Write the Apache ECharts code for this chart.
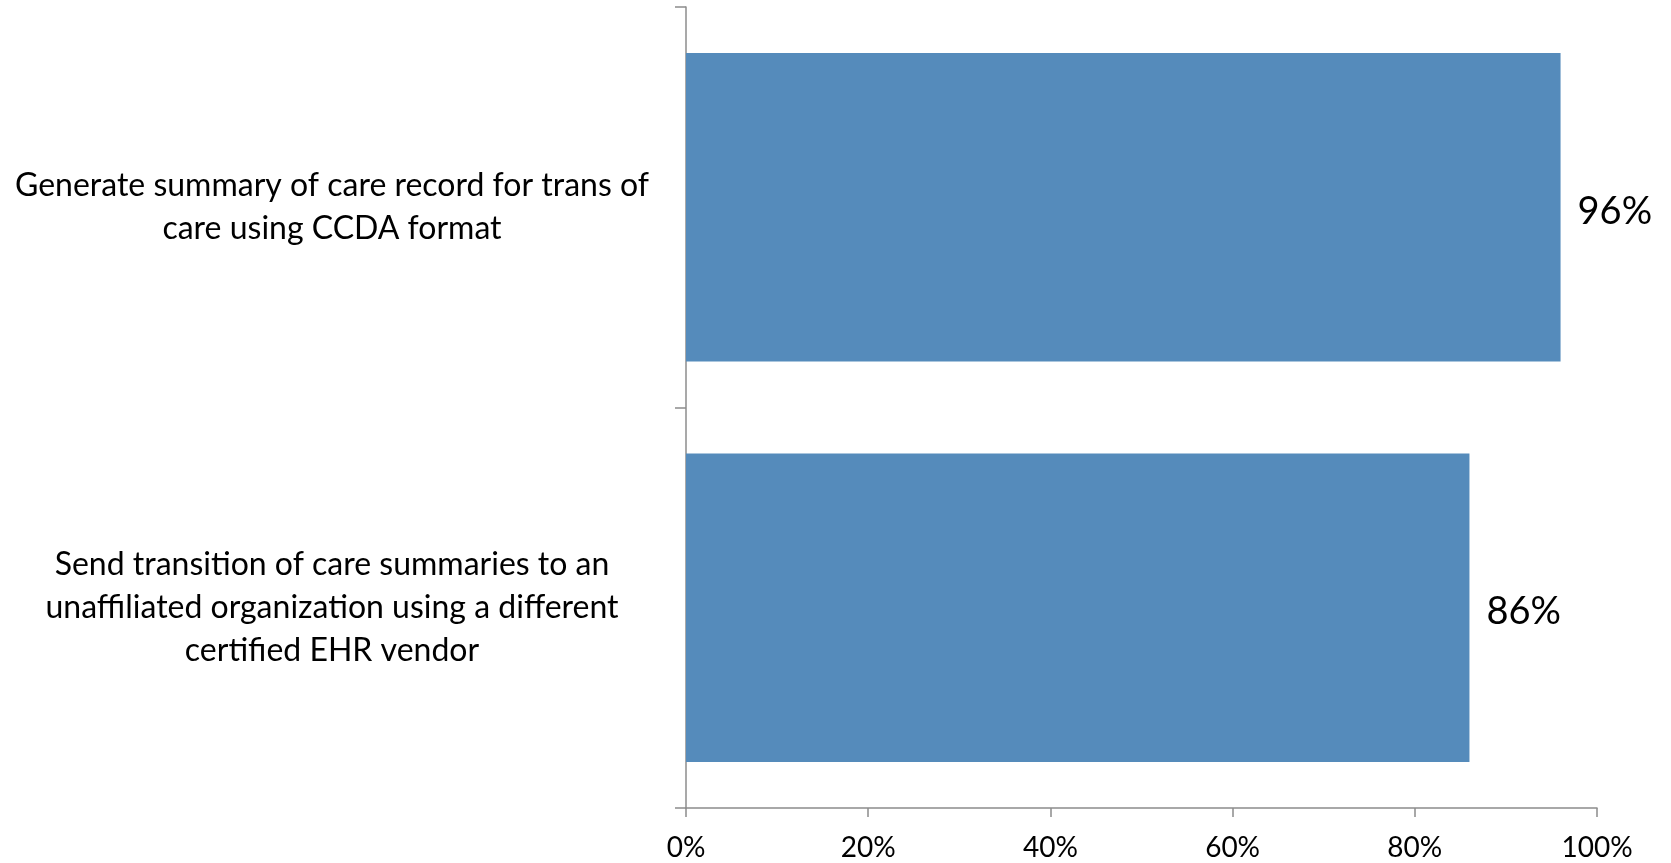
<!DOCTYPE html>
<html>
<head>
<meta charset="utf-8">
<title>Transition of care capabilities</title>
<script src="https://cdn.jsdelivr.net/npm/echarts@6/dist/echarts.min.js"></script>
<style>
  html, body { margin: 0; padding: 0; background: #ffffff; }
  #chart { width: 1671px; height: 863px; }
</style>
</head>
<body>
<div id="chart"></div>
<script>
// Capability labels, top to bottom
const categories = [
  'Generate summary of care record for trans of\ncare using CCDA format',
  'Send transition of care summaries to an\nunaffiliated organization using a different\ncertified EHR vendor'
];
// Share of respondents (percent)
const values = [96, 86];
// Value axis ticks
const axisMin = 0;
const axisMax = 100;
const axisStep = 20;

const FONT = 'Lato, "Open Sans", sans-serif';
const AXIS_GRAY = '#8c8c8c';

const chart = echarts.init(document.getElementById('chart'), null, { renderer: 'canvas' });

chart.setOption({
  animation: false,
  backgroundColor: '#ffffff',
  grid: { left: 686, right: 74, top: 7, bottom: 55, containLabel: false },
  xAxis: {
    type: 'value',
    min: axisMin,
    max: axisMax,
    interval: axisStep,
    axisLine: { show: true, lineStyle: { color: AXIS_GRAY, width: 1.5 } },
    axisTick: { show: true, length: 9, lineStyle: { color: AXIS_GRAY, width: 1.5 } },
    splitLine: { show: false },
    axisLabel: {
      formatter: '{value}%',
      color: '#000000',
      fontFamily: FONT,
      fontSize: 28,
      margin: 26
    }
  },
  yAxis: {
    type: 'category',
    data: categories,
    inverse: true,
    axisLine: { show: true, lineStyle: { color: AXIS_GRAY, width: 1.5 } },
    axisTick: { show: true, length: 11, lineStyle: { color: AXIS_GRAY, width: 1.5 } },
    splitLine: { show: false },
    axisLabel: {
      color: '#000000',
      fontFamily: FONT,
      fontSize: 32,
      lineHeight: 43,
      align: 'center',
      margin: 354
    }
  },
  series: [{
    type: 'bar',
    data: values,
    barCategoryGap: '23%',
    itemStyle: { color: '#558bbb' },
    label: {
      show: true,
      position: 'right',
      distance: 17,
      offset: [0, 4],
      formatter: '{c}%',
      color: '#000000',
      fontFamily: FONT,
      fontSize: 38
    }
  }]
});
</script>
</body>
</html>
